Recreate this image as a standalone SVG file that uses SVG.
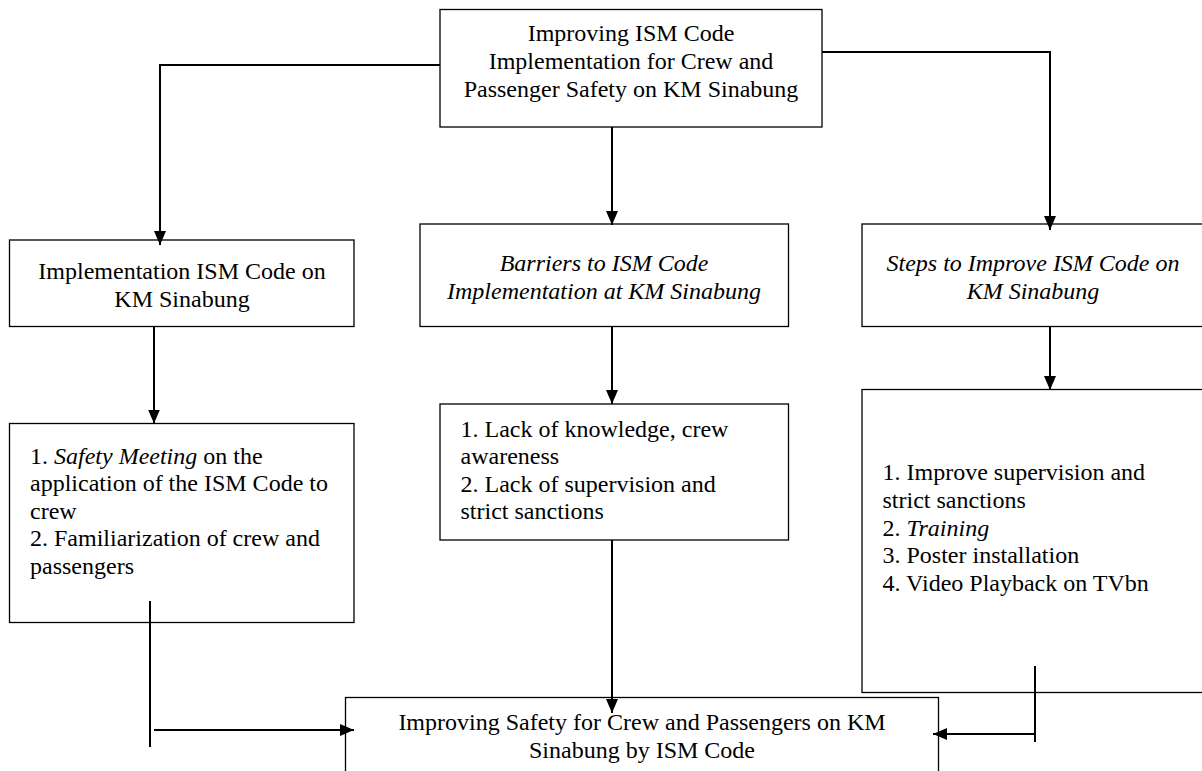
<svg xmlns="http://www.w3.org/2000/svg" width="1202" height="771" viewBox="0 0 1202 771">
<defs>
<style>
.box{fill:#fff;stroke:#000;stroke-width:1.3}
.t{font-family:"Liberation Serif","Times New Roman",serif;font-size:24px;fill:#000}
.c{text-anchor:middle}
.i{font-style:italic}
.con{fill:none;stroke:#000;stroke-width:2}
</style>
<marker id="arr" viewBox="0 0 14 12" refX="14" refY="6" markerWidth="14" markerHeight="12" orient="auto" markerUnits="userSpaceOnUse">
<path d="M0,0 L14,6 L0,12 Z" fill="#000"/>
</marker>
</defs>
<rect width="1202" height="771" fill="#fff"/>

<g id="top">
<rect class="box" x="440" y="9.5" width="382" height="117.5"/>
<text class="t c" x="631" y="41">Improving ISM Code</text>
<text class="t c" x="631" y="69">Implementation for Crew and</text>
<text class="t c" x="631" y="96.5">Passenger Safety on KM Sinabung</text>
</g>

<g id="impl">
<rect class="box" x="9.5" y="240" width="344.5" height="86.5"/>
<text class="t c" x="182" y="279">Implementation ISM Code on</text>
<text class="t c" x="182" y="306.5">KM Sinabung</text>
</g>

<g id="barriers">
<rect class="box" x="420" y="224" width="368.5" height="102.5"/>
<text class="t c i" x="604" y="271">Barriers to ISM Code</text>
<text class="t c i" x="604" y="298.5">Implementation at KM Sinabung</text>
</g>

<g id="steps">
<rect class="box" x="862" y="224" width="345" height="102.5"/>
<text class="t c i" x="1033" y="271">Steps to Improve ISM Code on</text>
<text class="t c i" x="1033" y="298.5">KM Sinabung</text>
</g>

<g id="impl-list">
<rect class="box" x="9.5" y="423.5" width="344.5" height="199"/>
<text class="t" x="30" y="463.5">1. <tspan class="i">Safety Meeting</tspan> on the</text>
<text class="t" x="30" y="491">application of the ISM Code to</text>
<text class="t" x="30" y="518.5">crew</text>
<text class="t" x="30" y="546">2. Familiarization of crew and</text>
<text class="t" x="30" y="573.5">passengers</text>
</g>

<g id="barriers-list">
<rect class="box" x="440" y="404" width="348.5" height="136"/>
<text class="t" x="460.5" y="436.5">1. Lack of knowledge, crew</text>
<text class="t" x="460.5" y="464">awareness</text>
<text class="t" x="460.5" y="491.5">2. Lack of supervision and</text>
<text class="t" x="460.5" y="519">strict sanctions</text>
</g>

<g id="steps-list">
<rect class="box" x="862" y="389.5" width="345" height="303"/>
<text class="t" x="882.5" y="480">1. Improve supervision and</text>
<text class="t" x="882.5" y="508">strict sanctions</text>
<text class="t" x="882.5" y="535.5">2. <tspan class="i">Training</tspan></text>
<text class="t" x="882.5" y="563">3. Poster installation</text>
<text class="t" x="882.5" y="590.5">4. Video Playback on TVbn</text>
</g>

<g id="result">
<rect class="box" x="345.5" y="697.5" width="593" height="110"/>
<text class="t c" x="642" y="730">Improving Safety for Crew and Passengers on KM</text>
<text class="t c" x="642" y="757.5">Sinabung by ISM Code</text>
</g>

<g id="connectors">
<path class="con" d="M440,65 H160 V245" marker-end="url(#arr)"/>
<path class="con" d="M612,127 V225" marker-end="url(#arr)"/>
<path class="con" d="M822,52 H1050 V230" marker-end="url(#arr)"/>
<path class="con" d="M154,327 V423.5" marker-end="url(#arr)"/>
<path class="con" d="M612,327 V404" marker-end="url(#arr)"/>
<path class="con" d="M1050,327 V390" marker-end="url(#arr)"/>
<path class="con" d="M150,601 V747"/>
<path class="con" d="M154,730 H354" marker-end="url(#arr)"/>
<path class="con" d="M612,540 V713" marker-end="url(#arr)"/>
<path class="con" d="M1035,666 V742"/>
<path class="con" d="M1035,734 H933" marker-end="url(#arr)"/>
</g>
</svg>
